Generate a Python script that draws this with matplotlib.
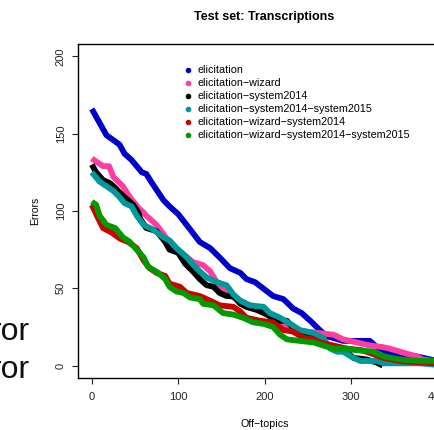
import matplotlib
matplotlib.use("Agg")
import matplotlib.pyplot as plt

plt.rcParams['font.family'] = ['Liberation Sans', 'DejaVu Sans']

labels = ["elicitation", "elicitation\u2212wizard", "elicitation\u2212system2014",
          "elicitation\u2212system2014\u2212system2015", "elicitation\u2212wizard\u2212system2014",
          "elicitation\u2212wizard\u2212system2014\u2212system2015"]
colors = ["#0000CD", "#FF3EA0", "#000000", "#009999", "#CD0000", "#009900"]

blue_x = [0,17,27,32,38,46,58,63,71,83,90,100,114,125,137,148,160,172,179,189,203,210,222,233,243,253,264,272,279,291,322,330,342,357,376,392,400]
blue_y = [166,149,145,143,137,133,125,124,117,107,103,98,88,80,76,70,63,60,56,54,48,45,43,37,34,29,23,19,18,16,16,12,9,7,6,4,3]

pink_x = [0,5,13,20,25,36,44,54,60,63,75,87,102,117,129,137,148,160,172,183,195,210,222,233,249,264,280,291,307,322,337,345,357,376,383,396,400]
pink_y = [134,132,129,129,122,116,109,102,99,97,91,82,74,67,65,61,51,45,42,39,37,31,27,23,22,21,20,17,15,13,12,11,9,6,4,3,2]

black_x = [0,5,13,21,27,34,42,48,54,56,63,75,85,90,100,108,117,125,133,141,148,156,164,172,179,191,203,214,226,237,257,268,284,295,303,318,330,337]
black_y = [130,125,120,118,115,111,107,104,99,95,89,87,80,75,73,66,61,56,52,51,47,45,45,40,38,36,33,29,29,22,19,14,10,9,5,4,2,0]

teal_x = [0,9,17,25,32,38,46,52,60,71,83,90,98,110,121,133,145,156,164,172,183,199,206,218,230,241,257,268,276,284,291,303,311,330,338,380,400]
teal_y = [125,119,116,113,109,105,103,97,91,88,83,81,76,70,63,57,54,52,46,42,39,38,34,31,27,23,21,18,11,9,9,5,3,3,1.5,1.5,0.5]

red_x = [0,5,13,23,33,42,52,60,67,75,85,90,102,110,125,137,148,164,172,179,195,210,222,233,245,257,264,280,295,312,318,338,357,380,400]
red_y = [104,98,89,86,82,80,76,68,63,60,58,53,51,47,45,42,39,38,35,31,29,28,23,22,18,17,15,13,11,10,9,5,3,2,1.5]

green_x = [0,5,9,17,27,36,44,52,60,65,77,85,90,98,106,114,125,129,141,152,164,175,187,199,210,218,226,241,257,268,280,295,307,326,338,357,380,400]
green_y = [106,104,97,91,89,83,80,75,70,64,60,56,51,48,47,44,43,40,39,34,33,31,28,27,25,20,17,16,15,13,11,11,10,9,6,4,3,3]

series = [(blue_x, blue_y), (pink_x, pink_y), (black_x, black_y),
          (teal_x, teal_y), (red_x, red_y), (green_x, green_y)]

xticks = [0, 100, 200, 300, 400]
yticks = [0, 50, 100, 150, 200]

W, H = 434, 430
fig = plt.figure(figsize=(W/100, H/100), dpi=100)
ax = fig.add_axes([78/W, 1-378/H, 373/W, 334/H])

for (xs, ys), c in zip(series, colors):
    ax.plot(xs, ys, color=c, lw=4.2, solid_joinstyle='round', solid_capstyle='butt')

ax.set_xlim(-16, 416)
ax.set_ylim(-8, 208)
ax.set_xticks(xticks)
ax.set_yticks(yticks)
ax.set_yticklabels([str(t) for t in yticks], rotation=90, va='center')
ax.tick_params(axis='both', labelsize=8, length=4.3, width=0.8, colors='#222222')
ax.tick_params(axis='x', pad=6)
ax.tick_params(axis='y', pad=4.5)
for s in ax.spines.values():
    s.set_linewidth(1.0)
ax.set_xlabel("Off\u2212topics", fontsize=7.7, labelpad=12)
ax.set_ylabel("Errors", fontsize=7.5, labelpad=11.5)

fig.text(264.5/W, 1-17/H, "Test set: Transcriptions", ha='center', va='center',
         fontsize=9, fontweight='bold')

# legend
for i, (lab, c) in enumerate(zip(labels, colors)):
    yy = 1 - (70 + 13*i)/H
    fig.lines.append(plt.Line2D([188/W], [yy], marker='o', ms=3, color=c, lw=0,
                                transform=fig.transFigure))
    fig.text(197.5/W, yy, lab, ha='left', va='center', fontsize=7.75)

# partially visible text from neighbouring panel
fig.text(30/W, 1-340/H, "ror", ha='right', va='baseline', fontsize=23, color='#111111')
fig.text(30/W, 1-378/H, "ror", ha='right', va='baseline', fontsize=23, color='#111111')

fig.savefig("out.png", dpi=100)
